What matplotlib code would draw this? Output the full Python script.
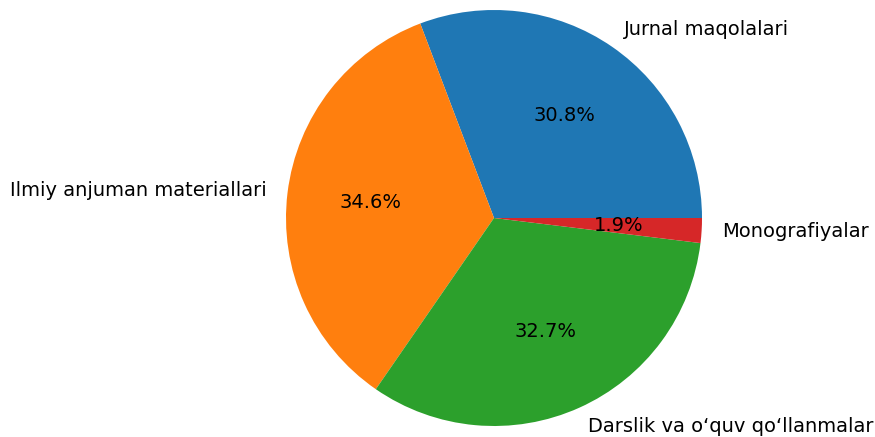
import matplotlib
matplotlib.use('Agg')
import matplotlib.pyplot as plt

# publication types and their counts
labels = ['Jurnal maqolalari', 'Ilmiy anjuman materiallari',
          'Darslik va o\u2018quv qo\u2018llanmalar', 'Monografiyalar']
counts = [16, 18, 17, 1]
colors = ['#1f77b4', '#ff7f0e', '#2ca02c', '#d62728']

fig = plt.figure(figsize=(8.75, 4.37), dpi=100)
ax = fig.add_axes([286 / 875, 11 / 437, 416 / 875, 416 / 437])
ax.pie(counts, labels=labels, colors=colors, autopct='%1.1f%%',
       textprops={'fontsize': 14})
ax.set_aspect('equal', adjustable='box')
ax.set_xlim(-1, 1)
ax.set_ylim(-1, 1)
ax.axis('off')

plt.savefig('out.png', dpi=100)
